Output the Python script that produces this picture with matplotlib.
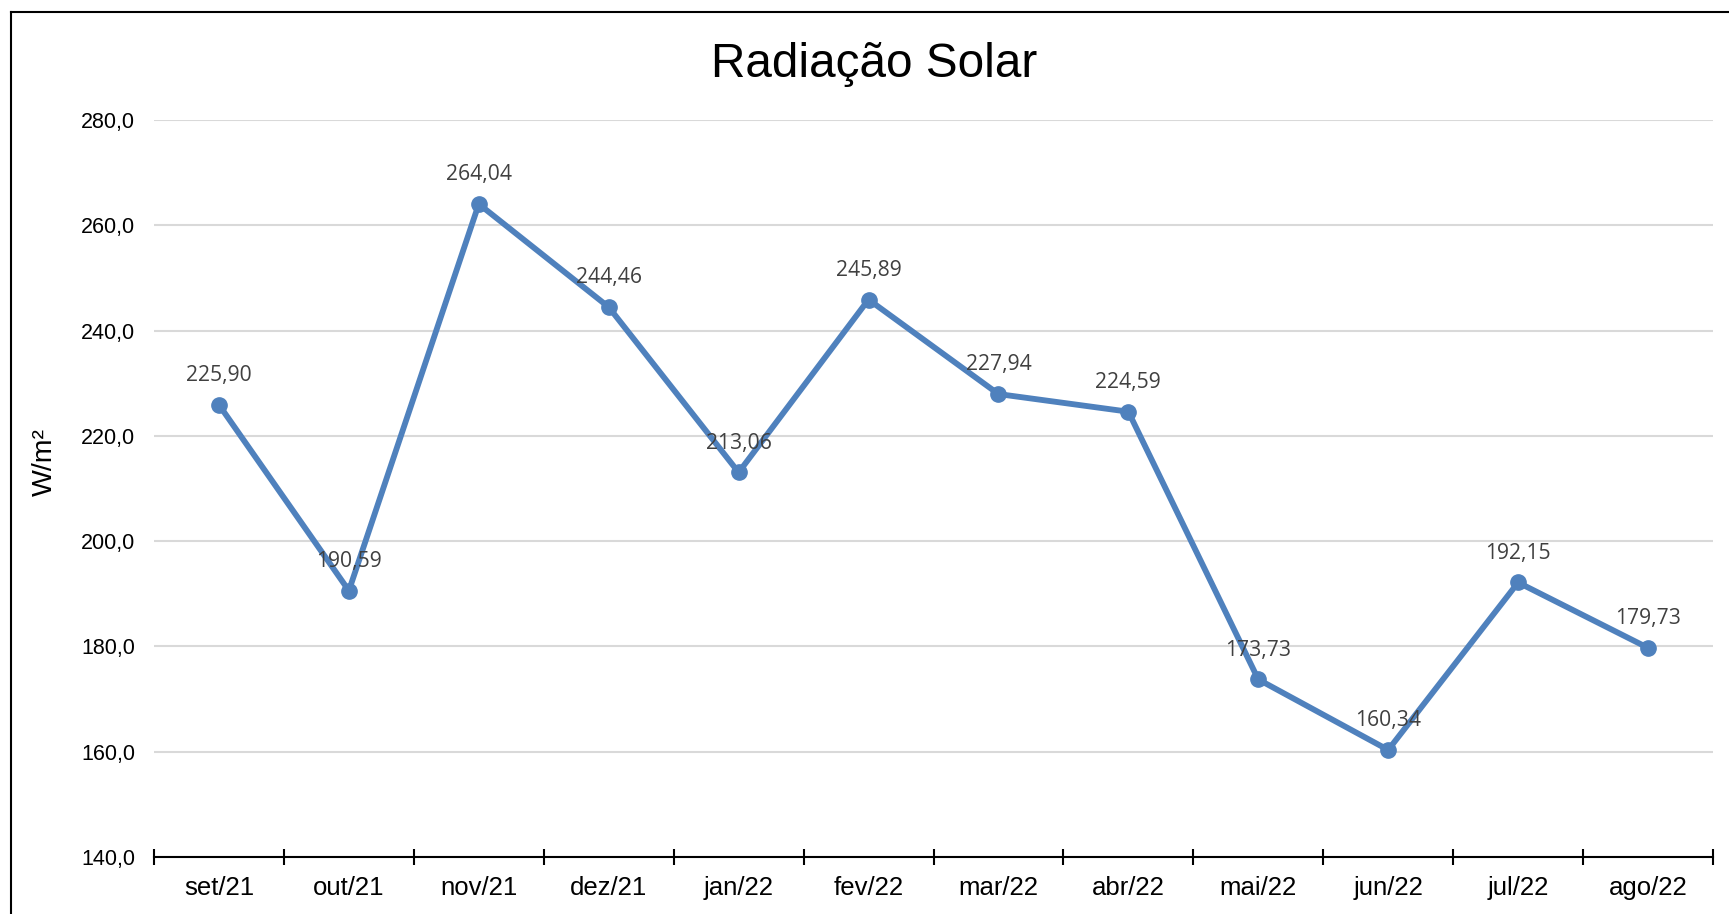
import matplotlib
matplotlib.use("Agg")
import matplotlib.pyplot as plt
from matplotlib.lines import Line2D
import numpy as np

months = ["set/21", "out/21", "nov/21", "dez/21", "jan/22", "fev/22",
          "mar/22", "abr/22", "mai/22", "jun/22", "jul/22", "ago/22"]
radiation = [225.90, 190.59, 264.04, 244.46, 213.06, 245.89,
             227.94, 224.59, 173.73, 160.34, 192.15, 179.73]
y_ticks = [140, 160, 180, 200, 220, 240, 260, 280]

W, H = 1729, 914
fig = plt.figure(figsize=(W / 100, H / 100), dpi=100)
fig.patch.set_facecolor("white")

ax = fig.add_axes([154 / W, 1 - 857 / H, (1713 - 154) / W, (857 - 120) / H])

x = np.arange(len(months))
color = "#4F81BD"
ax.plot(x, radiation, color=color, lw=4.2, marker="o", markersize=11,
        solid_capstyle="round", zorder=3)

for xi, v in zip(x, radiation):
    ax.annotate(f"{v:.2f}".replace(".", ","), (xi, v), xytext=(0, 17),
                textcoords="offset points", ha="center", va="baseline",
                fontsize=15.2, color="#404040", family="Open Sans", zorder=4)

ax.set_xlim(-0.5, len(months) - 0.5)
ax.set_ylim(140, 280)
ax.set_yticks(y_ticks)
ax.set_yticklabels([f"{t:.1f}".replace(".", ",") for t in y_ticks],
                   family="Liberation Sans", fontsize=15.5)
ax.tick_params(axis="y", length=0, pad=13.5)
ax.yaxis.grid(True, color="#D9D9D9", lw=1.5)
ax.set_axisbelow(True)

ax.set_xticks(x)
ax.set_xticklabels(months, family="Liberation Sans", fontsize=18.5)
ax.tick_params(axis="x", which="major", length=0, pad=14)
ax.set_xticks(np.arange(-0.5, len(months)), minor=True)
ax.tick_params(axis="x", which="minor", length=11, direction="inout",
               width=1.5, color="black")

for s in ["left", "right", "top"]:
    ax.spines[s].set_visible(False)
ax.spines["bottom"].set_color("black")
ax.spines["bottom"].set_linewidth(1.5)
ax.spines["bottom"].set_zorder(5)

fig.text(874 / W, 1 - 77 / H, "Radiação Solar", ha="center", va="baseline",
         fontsize=34.4, family="Liberation Sans")
fig.text(45 / W, 1 - 462 / H, "W/m²", ha="center", va="center",
         rotation=90, fontsize=20.5, family="Liberation Sans")

# chart frame (left and top edges visible)
fig.add_artist(Line2D([10.5 / W, 10.5 / W], [0, 1 - 11.5 / H],
                      transform=fig.transFigure, color="black", lw=1.5))
fig.add_artist(Line2D([10.5 / W, 1], [1 - 11.5 / H, 1 - 11.5 / H],
                      transform=fig.transFigure, color="black", lw=1.5))

fig.savefig("out.png", dpi=100)
